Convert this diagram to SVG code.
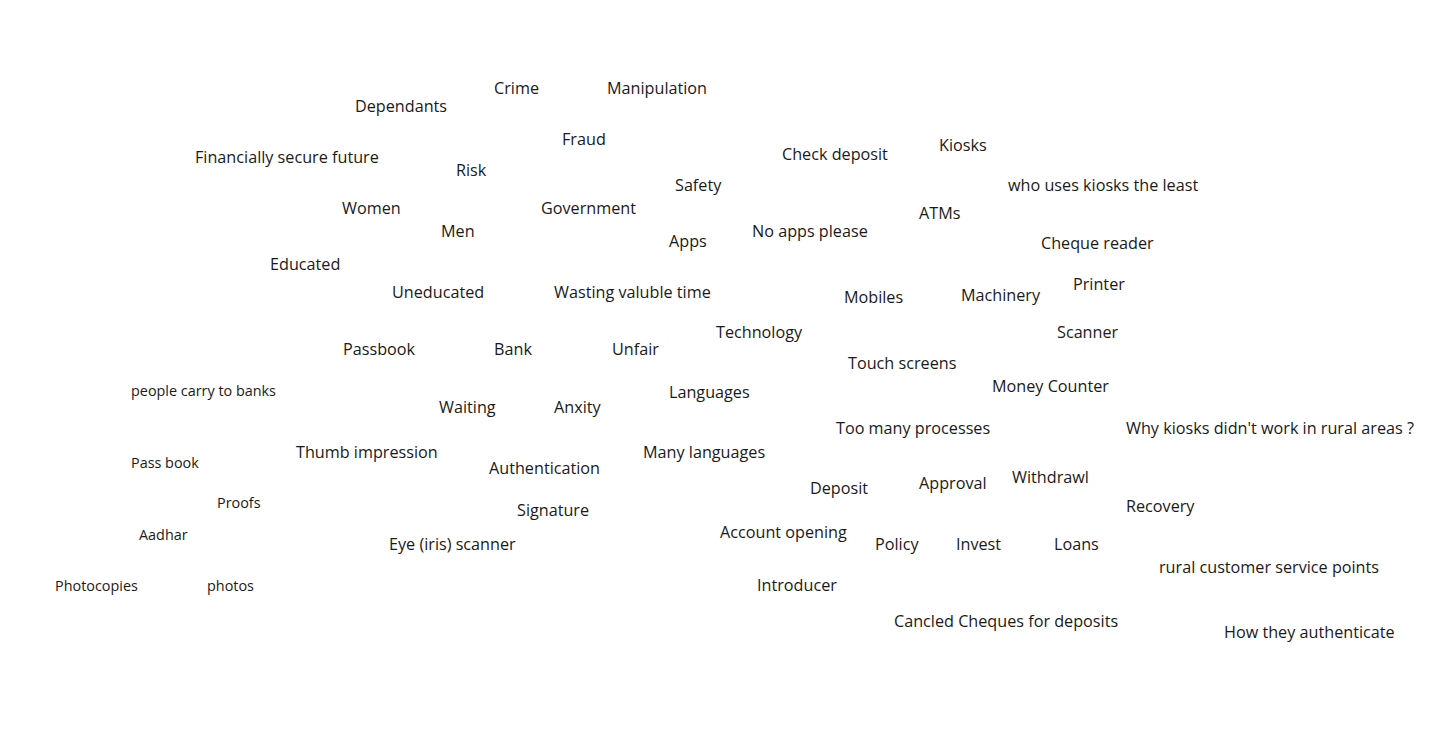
<svg xmlns="http://www.w3.org/2000/svg" width="1440" height="734" viewBox="0 0 1440 734">
<style>
text{font-family:"Open Sans","Noto Sans","Liberation Sans",sans-serif;fill:#1a1a1a;font-size:16.2px}
.s{font-size:14.4px}
</style>
<rect width="1440" height="734" fill="#ffffff"/>
<g id="words" transform="translate(0,-0.5)">
<text id="t1" x="494" y="94">Crime</text>
<text id="t2" x="607" y="94">Manipulation</text>
<text id="t3" x="355" y="112">Dependants</text>
<text id="t4" x="562" y="145">Fraud</text>
<text id="t5" x="195" y="163">Financially secure future</text>
<text id="t6" x="456" y="176">Risk</text>
<text id="t7" x="782" y="160">Check deposit</text>
<text id="t8" x="939" y="151">Kiosks</text>
<text id="t9" x="675" y="191">Safety</text>
<text id="t10" x="1008" y="191">who uses kiosks the least</text>
<text id="t11" x="342" y="214">Women</text>
<text id="t12" x="541" y="214">Government</text>
<text id="t13" x="919" y="219">ATMs</text>
<text id="t14" x="441" y="237">Men</text>
<text id="t15" x="752" y="237">No apps please</text>
<text id="t16" x="669" y="247">Apps</text>
<text id="t17" x="1041" y="249">Cheque reader</text>
<text id="t18" x="270" y="270">Educated</text>
<text id="t19" x="1073" y="290">Printer</text>
<text id="t20" x="392" y="298">Uneducated</text>
<text id="t21" x="554" y="298">Wasting valuble time</text>
<text id="t22" x="844" y="303">Mobiles</text>
<text id="t23" x="961" y="301">Machinery</text>
<text id="t24" x="716" y="338">Technology</text>
<text id="t25" x="1057" y="338">Scanner</text>
<text id="t26" x="343" y="355">Passbook</text>
<text id="t27" x="494" y="355">Bank</text>
<text id="t28" x="612" y="355">Unfair</text>
<text id="t29" x="848" y="369">Touch screens</text>
<text id="t30" x="992" y="392">Money Counter</text>
<text id="t31" class="s" x="131" y="396">people carry to banks</text>
<text id="t32" x="669" y="398">Languages</text>
<text id="t33" x="439" y="413">Waiting</text>
<text id="t34" x="554" y="413">Anxity</text>
<text id="t35" x="836" y="434">Too many processes</text>
<text id="t36" x="1126" y="434">Why kiosks didn't work in rural areas ?</text>
<text id="t37" x="296" y="458">Thumb impression</text>
<text id="t38" x="643" y="458">Many languages</text>
<text id="t39" class="s" x="131" y="468">Pass book</text>
<text id="t40" x="489" y="474">Authentication</text>
<text id="t41" x="1012" y="483">Withdrawl</text>
<text id="t42" x="919" y="489">Approval</text>
<text id="t43" x="810" y="494">Deposit</text>
<text id="t44" class="s" x="217" y="508">Proofs</text>
<text id="t45" x="1126" y="512">Recovery</text>
<text id="t46" x="517" y="516">Signature</text>
<text id="t47" x="720" y="538">Account opening</text>
<text id="t48" class="s" x="139" y="540">Aadhar</text>
<text id="t49" x="389" y="550">Eye (iris) scanner</text>
<text id="t50" x="875" y="550">Policy</text>
<text id="t51" x="956" y="550">Invest</text>
<text id="t52" x="1054" y="550">Loans</text>
<text id="t53" x="1159" y="573">rural customer service points</text>
<text id="t54" class="s" x="55" y="591">Photocopies</text>
<text id="t55" class="s" x="207" y="591">photos</text>
<text id="t56" x="757" y="591">Introducer</text>
<text id="t57" x="894" y="627">Cancled Cheques for deposits</text>
<text id="t58" x="1224" y="638">How they authenticate</text>
</g>
<g id="connectors"></g>
</svg>
